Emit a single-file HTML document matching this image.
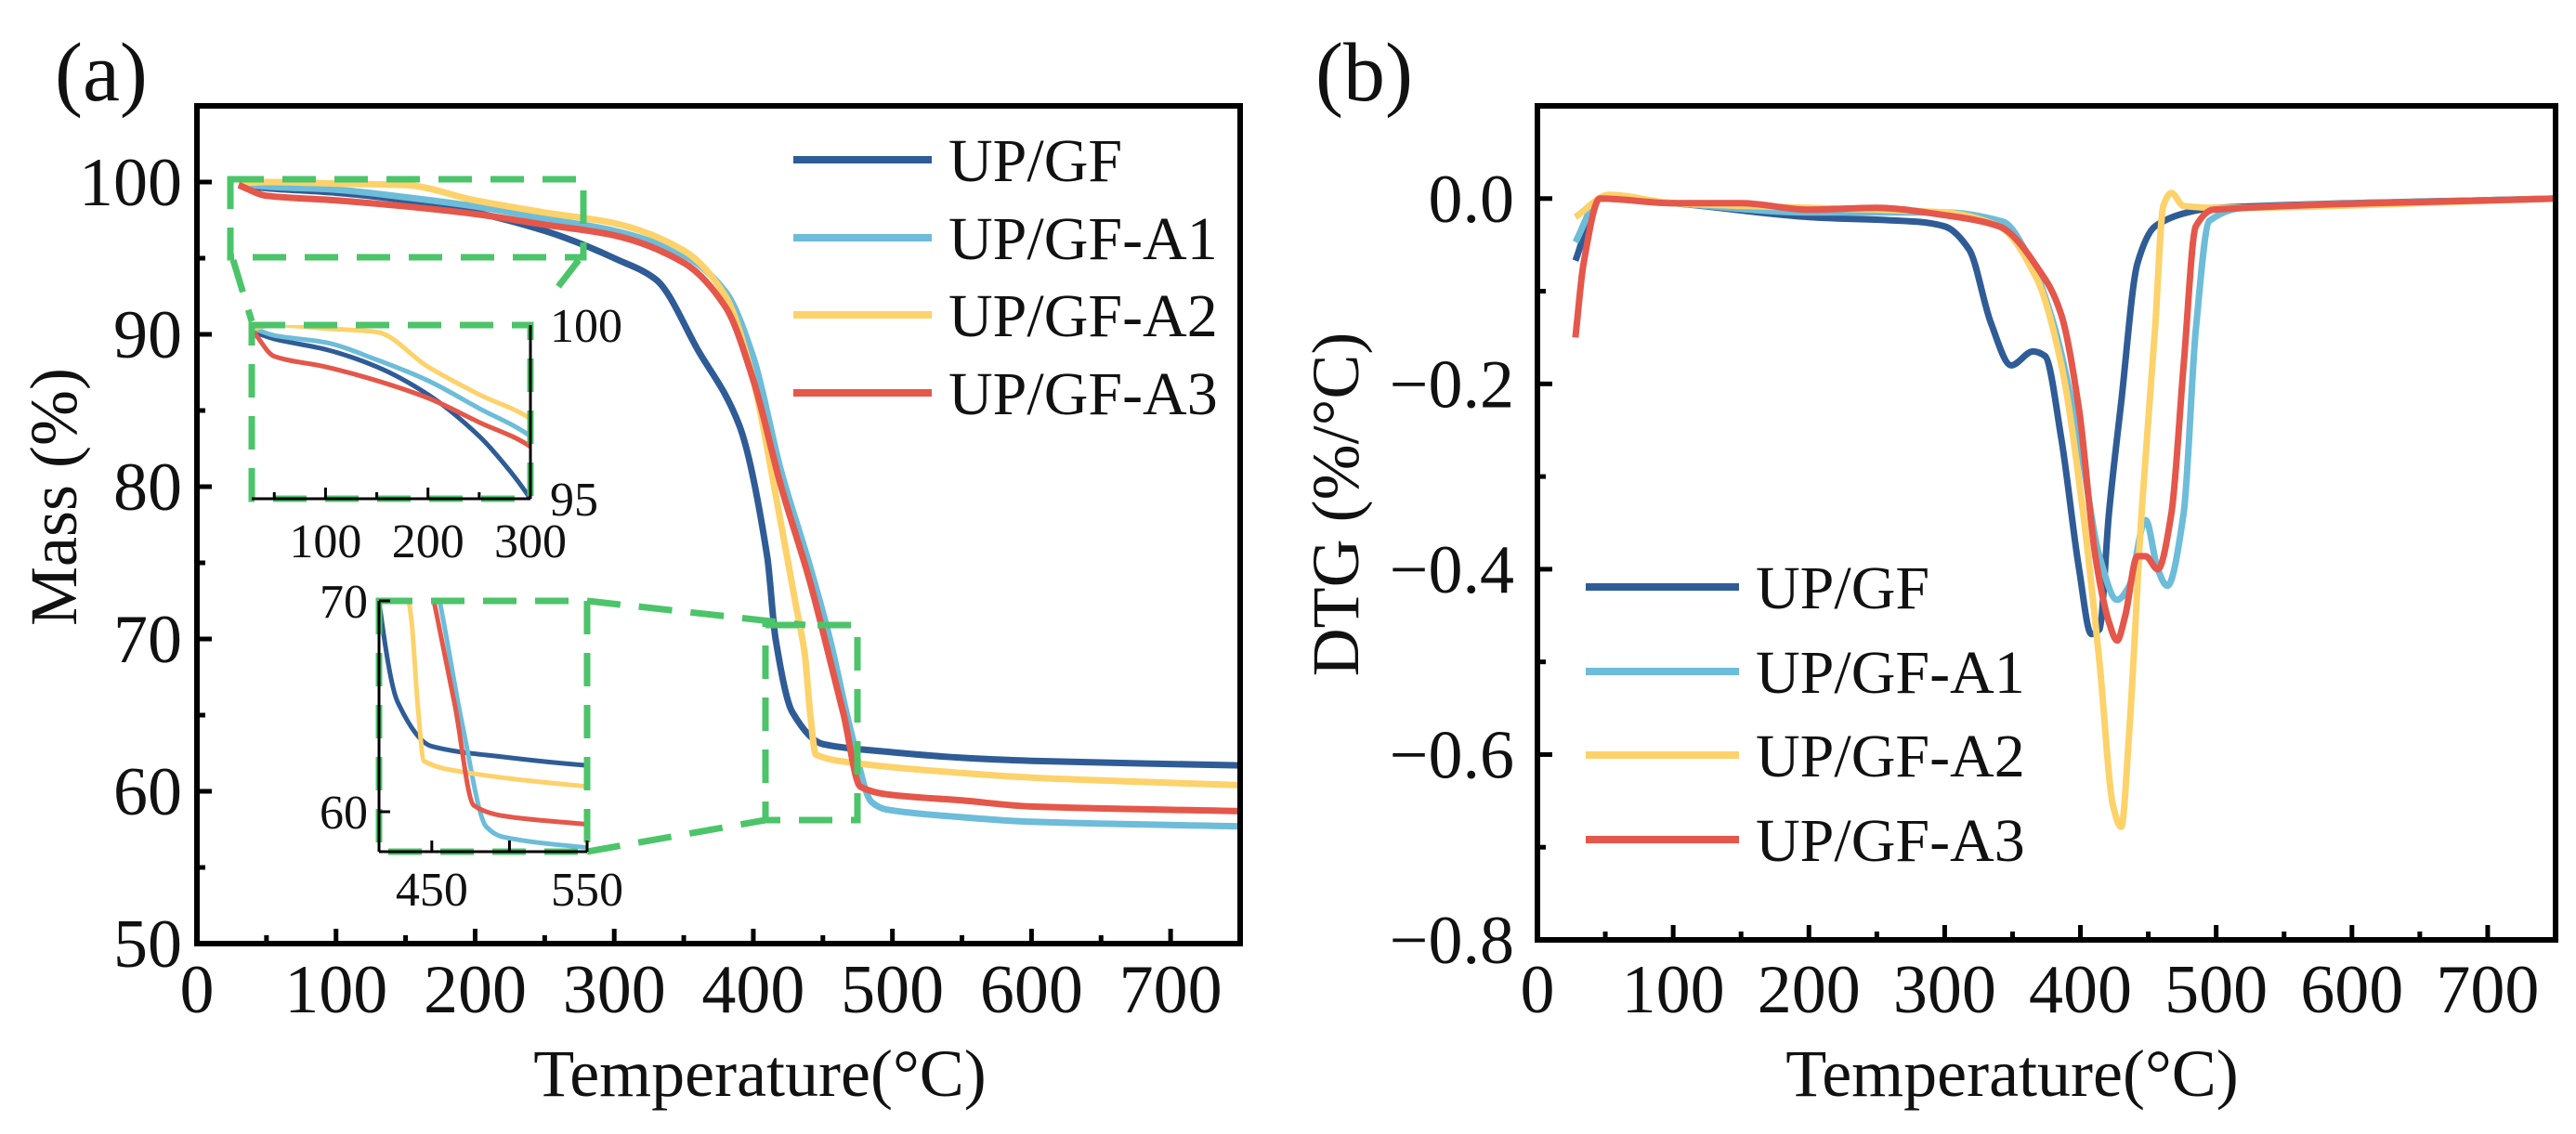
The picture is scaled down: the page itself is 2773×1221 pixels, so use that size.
<!DOCTYPE html>
<html><head><meta charset="utf-8"><style>
html,body{margin:0;padding:0;background:#fff;width:2773px;height:1221px;overflow:hidden}
svg{display:block}
text{font-family:"Liberation Serif",serif;fill:#111}
</style></head><body>
<svg id="s" width="2773" height="1221" viewBox="0 0 2773 1221" xmlns="http://www.w3.org/2000/svg">
<defs>
<clipPath id="cMain"><rect x="212" y="114" width="1123" height="902"/></clipPath>
<clipPath id="cIn1"><rect x="271" y="350" width="300" height="187"/></clipPath>
<clipPath id="cIn2"><rect x="408" y="647" width="224" height="270"/></clipPath>
<clipPath id="cDtg"><rect x="1655" y="114" width="1096" height="898"/></clipPath>
</defs>
<g id="gA"></g>
<g id="gB"></g>
</svg>
<script>
const seriesNames = ["UP/GF","UP/GF-A1","UP/GF-A2","UP/GF-A3"];
const seriesColors = ["#2f5c96","#6dbcd9","#fdd26b","#e4574a"];
const tgaT0 = [30,50,100,150,200,250,280,300,330,360,390,410,416,428,450,496,550,600,750];
const tgaM0 = [99.8,99.6,99.3,98.8,98.0,96.8,95.8,95.0,93.6,89.0,84.0,75.4,70.0,65.2,63.1,62.6,62.2,62.0,61.7];
const tgaT1 = [30,50,100,150,200,250,300,350,380,400,420,440,455,470,485,496,550,600,750];
const tgaM1 = [99.9,99.7,99.5,99.0,98.4,97.6,96.8,95.2,92.8,88.5,81.0,75.0,70.0,64.0,59.3,58.8,58.3,58.0,57.7];
const tgaT2 = [30,50,100,150,200,250,300,350,380,400,415,430,437,441,445,469,550,600,750];
const tgaM2 = [99.9,100.0,99.9,99.8,98.8,98.0,97.3,95.5,92.5,87.0,80.0,72.5,69.0,65.0,62.4,61.9,61.2,60.9,60.4];
const tgaT3 = [30,50,100,150,200,250,300,350,380,400,420,440,450,465,477,496,550,600,750];
const tgaM3 = [99.8,99.1,98.8,98.4,97.9,97.2,96.5,94.7,91.8,87.0,80.0,74.0,70.5,65.0,60.3,59.8,59.4,59.0,58.7];
const dtgT0 = [28,46,100,200,280,300,318,334,349,365,374,386,399,408,414,421,430,442,455,479,500,750];
const dtgV0 = [-0.067,0,-0.005,-0.02,-0.025,-0.03,-0.055,-0.134,-0.18,-0.165,-0.17,-0.26,-0.40,-0.47,-0.465,-0.34,-0.22,-0.07,-0.03,-0.015,-0.01,0];
const dtgT1 = [28,46,100,200,300,343,362,380,399,414,427,436,448,457,464,476,485,495,520,750];
const dtgV1 = [-0.047,0,-0.005,-0.015,-0.015,-0.025,-0.063,-0.134,-0.26,-0.386,-0.433,-0.418,-0.347,-0.40,-0.418,-0.34,-0.142,-0.024,-0.01,0];
const dtgT2 = [28,53,100,200,300,340,368,386,402,414,424,430,436,445,455,461,467,476,500,750];
const dtgV2 = [-0.02,0.004,-0.005,-0.01,-0.015,-0.03,-0.087,-0.18,-0.34,-0.5,-0.655,-0.678,-0.575,-0.34,-0.14,-0.008,0.006,-0.008,-0.01,0];
const dtgT3 = [28,34,46,100,150,200,250,300,340,374,386,399,411,421,427,433,442,448,457,467,476,485,498,750];
const dtgV3 = [-0.15,-0.07,0,-0.005,-0.005,-0.012,-0.01,-0.018,-0.03,-0.087,-0.126,-0.228,-0.386,-0.457,-0.477,-0.45,-0.386,-0.386,-0.40,-0.34,-0.18,-0.03,-0.012,0];
const mainXTicks = [0,100,200,300,400,500,600,700];
const mainYTicks = [50,60,70,80,90,100];
const dtgYTicks = [0.0,-0.2,-0.4,-0.6,-0.8];
const inset1XTicks = [100,200,300];
const inset1YTicks = [95,100];
const inset2XTicks = [450,550];
const inset2YTicks = [60,70];

const NS="http://www.w3.org/2000/svg";
function el(parent,tag,attrs,txt){const e=document.createElementNS(NS,tag);for(const k in attrs)e.setAttribute(k,attrs[k]);if(txt!==undefined)e.textContent=txt;parent.appendChild(e);return e;}
function lin(d0,d1,r0,r1){return v=>r0+(v-d0)*(r1-r0)/(d1-d0);}
const tga=[[tgaT0,tgaM0],[tgaT1,tgaM1],[tgaT2,tgaM2],[tgaT3,tgaM3]];
const dtg=[[dtgT0,dtgV0],[dtgT1,dtgV1],[dtgT2,dtgV2],[dtgT3,dtgV3]];
// monotone cubic (Fritsch-Carlson) path in pixel space
function pathD(xs,ys,sx,sy){
  const X=xs.map(sx), Y=ys.map(sy), n=X.length;
  const d=[],m=new Array(n);
  for(let i=0;i<n-1;i++)d.push((Y[i+1]-Y[i])/(X[i+1]-X[i]));
  m[0]=d[0];m[n-1]=d[n-2];
  for(let i=1;i<n-1;i++){ if(d[i-1]*d[i]<=0)m[i]=0; else m[i]=2/(1/d[i-1]+1/d[i]); }
  let s="M"+X[0].toFixed(1)+","+Y[0].toFixed(1);
  for(let i=0;i<n-1;i++){const h=(X[i+1]-X[i])/3;
    s+="C"+(X[i]+h).toFixed(1)+","+(Y[i]+m[i]*h).toFixed(1)+" "+(X[i+1]-h).toFixed(1)+","+(Y[i+1]-m[i+1]*h).toFixed(1)+" "+X[i+1].toFixed(1)+","+Y[i+1].toFixed(1);}
  return s;
}

const gA=document.getElementById("gA"), gB=document.getElementById("gB");
const GREEN="#4cc46a";

// ---------- Panel A ----------
const ax=lin(0,750,212,1335), ay=lin(50,105,1016,114);
let t=el(gA,"text",{x:59,y:108,"font-size":90},"(a)");


const linesA=el(gA,"g",{"clip-path":"url(#cMain)"});


tga.forEach((s,i)=>{const p=el(linesA,"path",{d:pathD(s[0],s[1],ax,ay),fill:"none",stroke:seriesColors[i],"stroke-width":7,"stroke-linejoin":"round"});

});
for(let v=0;v<=750;v+=50){const L=v%100===0?16:9;const tk=el(gA,"line",{x1:ax(v),x2:ax(v),y1:1016,y2:1016-L,stroke:"#000","stroke-width":5});

}
for(let v=50;v<=105;v+=5){const L=v%10===0?16:9;const tk=el(gA,"line",{x1:212,x2:212+L,y1:ay(v),y2:ay(v),stroke:"#000","stroke-width":5});

}
mainXTicks.forEach(v=>{const l=el(gA,"text",{x:ax(v),y:1090,"font-size":74,"text-anchor":"middle"},String(v));

});
mainYTicks.forEach(v=>{const l=el(gA,"text",{x:196,y:ay(v)+25,"font-size":74,"text-anchor":"end"},String(v));

});
const fa=el(gA,"rect",{x:212,y:114,width:1123,height:902,fill:"none",stroke:"#000","stroke-width":6});


t=el(gA,"text",{x:818,y:1180,"font-size":72,"text-anchor":"middle"},"Temperature(°C)");


t=el(gA,"text",{x:0,y:0,"font-size":72,"text-anchor":"middle",transform:"translate(82,535) rotate(-90)"},"Mass (%)");


const legA=el(gA,"g",{});


const legAY=[172,256,339,423];
seriesNames.forEach((n,i)=>{const g=el(legA,"g",{});


el(g,"line",{x1:854,x2:1003,y1:legAY[i],y2:legAY[i],stroke:seriesColors[i],"stroke-width":8});
el(g,"text",{x:1021,y:legAY[i]+23,"font-size":66},n);});
const dash={fill:"none",stroke:GREEN,"stroke-width":7,"stroke-dasharray":"36 20"};
const z1=el(gA,"rect",Object.assign({x:248,y:193,width:380,height:84},dash));


const z2=el(gA,"rect",Object.assign({x:824,y:673,width:99,height:210},dash));


[[251,280,271,346],[623,280,596,315],[632,647,867,673],[632,917,824,883]].forEach(c=>{const l=el(gA,"line",Object.assign({x1:c[0],y1:c[1],x2:c[2],y2:c[3]},dash));

});
// inset 1
const i1x=lin(28,300,271,571), i1y=lin(95,100,537,350);
const in1=el(gA,"g",{});


const in1l=el(in1,"g",{"clip-path":"url(#cIn1)"});
tga.forEach((s,i)=>{const p=el(in1l,"path",{d:pathD(s[0],s[1],i1x,i1y),fill:"none",stroke:seriesColors[i],"stroke-width":5});

});
el(in1,"rect",Object.assign({x:271,y:350,width:300,height:187},dash));
el(in1,"line",{x1:271,x2:571,y1:537,y2:537,stroke:"#000","stroke-width":3});
el(in1,"line",{x1:571,x2:571,y1:350,y2:537,stroke:"#000","stroke-width":3});
for(let v=50;v<=300;v+=50)el(in1,"line",{x1:i1x(v),x2:i1x(v),y1:537,y2:537-(v%100===0?12:7),stroke:"#000","stroke-width":3});
inset1XTicks.forEach(v=>{const l=el(in1,"text",{x:i1x(v),y:600,"font-size":52,"text-anchor":"middle"},String(v));

});
inset1YTicks.forEach(v=>{const l=el(in1,"text",{x:592,y:i1y(v)+18,"font-size":52},String(v));

});
// inset 2
const i2x=lin(416,550,408,632), i2y=lin(60,70,874,647);
const in2=el(gA,"g",{});


const in2l=el(in2,"g",{"clip-path":"url(#cIn2)"});
tga.forEach((s,i)=>{const p=el(in2l,"path",{d:pathD(s[0],s[1],i2x,i2y),fill:"none",stroke:seriesColors[i],"stroke-width":5});

});
el(in2,"rect",Object.assign({x:408,y:647,width:224,height:270},dash));
el(in2,"line",{x1:408,x2:632,y1:917,y2:917,stroke:"#000","stroke-width":3});
el(in2,"line",{x1:408,x2:408,y1:647,y2:917,stroke:"#000","stroke-width":3});
[450,500,550].forEach(v=>el(in2,"line",{x1:i2x(v),x2:i2x(v),y1:917,y2:905,stroke:"#000","stroke-width":3}));
[60,70].forEach(v=>el(in2,"line",{x1:408,x2:420,y1:i2y(v),y2:i2y(v),stroke:"#000","stroke-width":3}));
inset2XTicks.forEach(v=>{const l=el(in2,"text",{x:i2x(v),y:975,"font-size":52,"text-anchor":"middle"},String(v));

});
inset2YTicks.forEach(v=>{const l=el(in2,"text",{x:396,y:i2y(v)+18,"font-size":52,"text-anchor":"end"},String(v));

});

// ---------- Panel B ----------
const bx=lin(0,750,1655,2751), by=lin(-0.8,0.1,1012,114);
t=el(gB,"text",{x:1416,y:108,"font-size":90},"(b)");


const linesB=el(gB,"g",{"clip-path":"url(#cDtg)"});


dtg.forEach((s,i)=>{const p=el(linesB,"path",{d:pathD(s[0],s[1],bx,by),fill:"none",stroke:seriesColors[i],"stroke-width":7,"stroke-linejoin":"round"});

});
for(let v=0;v<=750;v+=50){const L=v%100===0?16:9;const tk=el(gB,"line",{x1:bx(v),x2:bx(v),y1:1012,y2:1012-L,stroke:"#000","stroke-width":5});

}
for(let k=-8;k<=1;k++){const v=k/10;const L=k%2===0?16:9;const tk=el(gB,"line",{x1:1655,x2:1655+L,y1:by(v),y2:by(v),stroke:"#000","stroke-width":5});

}
mainXTicks.forEach(v=>{const l=el(gB,"text",{x:bx(v),y:1090,"font-size":74,"text-anchor":"middle"},String(v));

});
dtgYTicks.forEach(v=>{const l=el(gB,"text",{x:1630,y:by(v)+25,"font-size":74,"text-anchor":"end"},(v<0?"\u2212":"")+Math.abs(v).toFixed(1));

});
const fb=el(gB,"rect",{x:1655,y:114,width:1096,height:898,fill:"none",stroke:"#000","stroke-width":6});


t=el(gB,"text",{x:2166,y:1180,"font-size":72,"text-anchor":"middle"},"Temperature(°C)");


t=el(gB,"text",{x:0,y:0,"font-size":72,"text-anchor":"middle",transform:"translate(1462,543) rotate(-90)"},"DTG (%/°C)");


const legB=el(gB,"g",{});


const legBY=[632,723,813,904];
seriesNames.forEach((n,i)=>{const g=el(legB,"g",{});


el(g,"line",{x1:1707,x2:1872,y1:legBY[i],y2:legBY[i],stroke:seriesColors[i],"stroke-width":8});
el(g,"text",{x:1890,y:legBY[i]+23,"font-size":66},n);});
</script>
</body></html>
